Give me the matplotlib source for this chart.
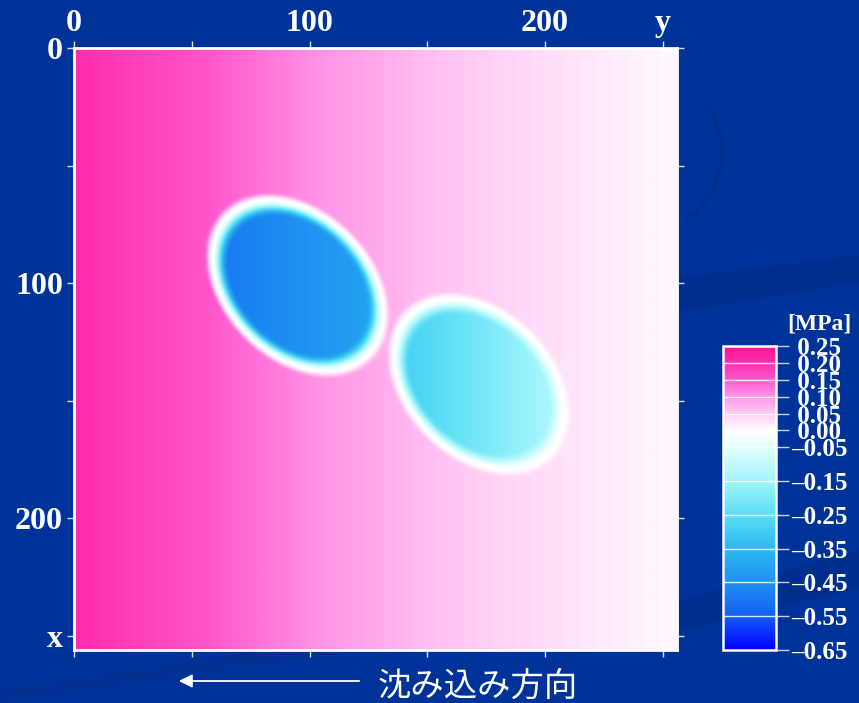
import numpy as np
import matplotlib
matplotlib.use("Agg")
import matplotlib.pyplot as plt
from matplotlib.colors import LinearSegmentedColormap, Normalize
from matplotlib.patches import Polygon, FancyArrowPatch, Arc

# ---- data -------------------------------------------------------------
# stress along the horizontal (y) direction of the background field [MPa]
bg_y = [0, 50, 100, 150, 200, 256]
bg_stress = [0.20, 0.16, 0.105, 0.062, 0.032, 0.004]

# two elliptical inclusions: centre (x down, y across), semi-axes, tilt
ell_x = [101, 143]
ell_y = [95, 172]
ell_a = [42, 42]
ell_b = [30, 30]
ell_angle = [45, 45]
# stress inside each inclusion, at its left and right side [MPa]
ell_stress_left = [-0.50, -0.30]
ell_stress_right = [-0.40, -0.12]

# colour scale
cb_levels = [0.25, 0.20, 0.15, 0.10, 0.05, 0.00, -0.05, -0.15, -0.25,
             -0.35, -0.45, -0.55, -0.65]
cb_colors = ["#ff1496", "#ff2daf", "#ff5acd", "#ff96e6", "#ffcdf5", "#ffffff",
             "#e1ffff", "#a0f5fc", "#5adef5", "#2db9f2", "#1e91f0", "#145ff5",
             "#0000ff"]

x_ticks = [0, 50, 100, 150, 200, 250]
top_labels = ["0", "", "100", "", "200", "y"]
left_labels = ["0", "", "100", "", "200", "x"]

# ---- field ------------------------------------------------------------
N = 256
yy, xx = np.meshgrid(np.arange(N) + 0.5, np.arange(N) + 0.5)
field = np.interp(yy, bg_y, bg_stress)


def smooth(t):
    t = np.clip(t, 0.0, 1.0)
    return t * t * (3 - 2 * t)


rim_out, rim_in = 3.2, 7.0
for i in range(len(ell_x)):
    dy = yy - ell_y[i]
    dx = xx - ell_x[i]
    th = np.deg2rad(ell_angle[i])
    u = dy * np.cos(th) + dx * np.sin(th)
    v = -dy * np.sin(th) + dx * np.cos(th)
    rho = np.sqrt((u / ell_a[i]) ** 2 + (v / ell_b[i]) ** 2)
    d = (rho - 1.0) * np.sqrt(ell_a[i] * ell_b[i])
    half = np.sqrt((ell_a[i] ** 2 + ell_b[i] ** 2) / 2)
    inner = np.interp(yy, [ell_y[i] - half, ell_y[i] + half],
                      [ell_stress_left[i], ell_stress_right[i]])
    field = field * smooth(d / rim_out) + inner * smooth(-d / rim_in)

# ---- figure -----------------------------------------------------------
W, H = 859, 703
BG = "#003399"
fig = plt.figure(figsize=(W / 100, H / 100), dpi=100, facecolor=BG)


def fx(px):
    return px / W


def fy(py):
    return 1 - py / H


# faint darker swooshes of the slide background
deco = "#002e8e"
fig.add_artist(Polygon([(fx(676), fy(278)), (fx(859), fy(255)),
                        (fx(859), fy(282)), (fx(676), fy(312))],
                       closed=True, transform=fig.transFigure,
                       facecolor=deco, edgecolor="none", zorder=0))
fig.add_artist(Polygon([(fx(640), fy(612)), (fx(859), fy(550)),
                        (fx(859), fy(588)), (fx(640), fy(640))],
                       closed=True, transform=fig.transFigure,
                       facecolor=deco, edgecolor="none", zorder=0))
fig.add_artist(Polygon([(fx(0), fy(690)), (fx(330), fy(640)),
                        (fx(330), fy(655)), (fx(0), fy(703))],
                       closed=True, transform=fig.transFigure,
                       facecolor="#003193", edgecolor="none", zorder=0))
fig.add_artist(Arc((fx(640), fy(152)), 2 * 82 / W, 2 * 82 / H,
                   theta1=-62, theta2=42,
                   transform=fig.transFigure, color="#00308f", lw=3,
                   zorder=0))

cmap = LinearSegmentedColormap.from_list(
    "stress",
    [((lv - cb_levels[-1]) / (cb_levels[0] - cb_levels[-1]), c)
     for lv, c in zip(cb_levels[::-1], cb_colors[::-1])])
norm = Normalize(vmin=cb_levels[-1], vmax=cb_levels[0])

ax = fig.add_axes([fx(74), 1 - 650 / H, 603 / W, 602 / H])
im = ax.imshow(field, cmap=cmap, norm=norm, extent=(0, N, N, 0),
               interpolation="bilinear", aspect="auto")
ax.set_xlim(0, N)
ax.set_ylim(N, 0)
for sp in ax.spines.values():
    sp.set_color("white")
    sp.set_linewidth(2)

tick_font = dict(family="Liberation Serif", weight="bold", size=23)
ax.set_xticks(x_ticks)
ax.set_xticklabels(top_labels, fontdict=tick_font, color="white")
ax.set_yticks(x_ticks)
ax.set_yticklabels(left_labels, fontdict=tick_font, color="white")
ax.tick_params(axis="x", top=True, bottom=True, labeltop=True,
               labelbottom=False, direction="out", length=5, width=1,
               color="#d8def0", pad=2)
ax.tick_params(axis="y", left=True, right=True, labelleft=True,
               labelright=False, direction="out", length=5, width=1,
               color="#d8def0", pad=3)

# colour bar
cax = fig.add_axes([fx(723), 1 - 650 / H, 53 / W, 304 / H])
cb = fig.colorbar(im, cax=cax)
cb.set_ticks(cb_levels)
cb.set_ticklabels([(" %.2f" % v) if v >= 0 else ("\u2013%.2f" % -v)
                   for v in cb_levels])
cb.outline.set_edgecolor("white")
cb.outline.set_linewidth(1.8)
cax.tick_params(length=9, width=1, color="#c8d0e8", pad=2)
for lab in cax.get_yticklabels():
    lab.set_family("Liberation Serif")
    lab.set_weight("bold")
    lab.set_size(18)
    lab.set_color("white")
for lv in cb_levels[1:-1]:
    cax.axhline(lv, color="white", lw=1, alpha=0.85)

fig.text(fx(819), fy(324), "[MPa]", ha="center", va="center", color="white",
         family="Liberation Serif", weight="bold", size=17)

# direction of subduction
fig.add_artist(FancyArrowPatch((fx(362), fy(681)), (fx(176), fy(681)),
                               transform=fig.transFigure, arrowstyle="-|>",
                               mutation_scale=20, color="white", lw=1.3))
fig.text(fx(378), fy(686), "沈み込み方向", ha="left", va="center",
         color="white", family=["Noto Sans CJK JP", "DejaVu Sans"], size=24)

fig.savefig("out.png", dpi=100, facecolor=BG)
